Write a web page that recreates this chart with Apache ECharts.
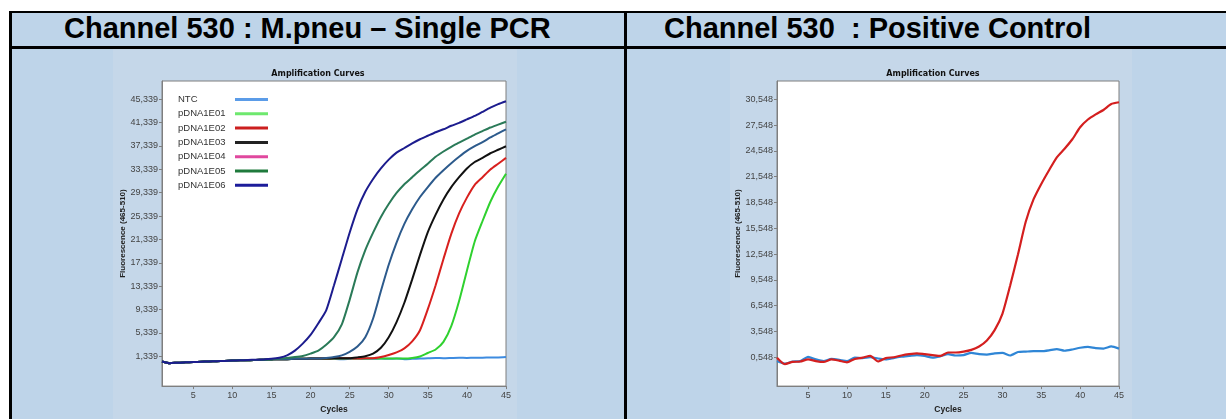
<!DOCTYPE html>
<html><head><meta charset="utf-8">
<script src="https://cdn.jsdelivr.net/npm/echarts@6/dist/echarts.min.js"></script>
<style>
html,body{margin:0;padding:0;background:#fff;width:1226px;height:419px;overflow:hidden;}
.abs{position:absolute;}
.hdr{position:absolute;font-family:'Liberation Sans',Arial,sans-serif;font-weight:bold;font-size:29px;line-height:29px;color:#000;white-space:nowrap;}
#c{position:absolute;left:0;top:0;width:1226px;height:419px;}
</style>
</head><body>
<div class="abs" style="left:9px;top:11px;width:1217px;height:408px;background:#bed4e9"></div>
<div class="abs" style="left:113px;top:48px;width:404px;height:371px;background:#c5d7e9"></div>
<div class="abs" style="left:730px;top:48px;width:402px;height:371px;background:#c5d7e9"></div>
<div class="abs" style="left:9px;top:10.5px;width:1217px;height:2.5px;background:#000"></div>
<div class="abs" style="left:9px;top:46px;width:1217px;height:2.5px;background:#000"></div>
<div class="abs" style="left:9px;top:10.5px;width:2.5px;height:409px;background:#000"></div>
<div class="abs" style="left:624px;top:10.5px;width:2.5px;height:409px;background:#000"></div>
<div class="hdr" style="left:64px;top:13.5px;">Channel 530 : M.pneu – Single PCR</div>
<div class="hdr" style="left:664px;top:13.5px;">Channel 530&nbsp; : Positive Control</div>
<div id="c"></div>
<script>
// ---- data ----
const cycles = [1,2,3,4,5,6,7,8,9,10,11,12,13,14,15,16,17,18,19,20,21,22,23,24,25,26,27,28,29,30,31,32,33,34,35,36,37,38,39,40,41,42,43,44,45];
const xTicks = [5,10,15,20,25,30,35,40,45];

const leftTicks = [1339,5339,9339,13339,17339,21339,25339,29339,33339,37339,41339,45339];
const leftTickLabels = ['1,339','5,339','9,339','13,339','17,339','21,339','25,339','29,339','33,339','37,339','41,339','45,339'];
const rightTicks = [548,3548,6548,9548,12548,15548,18548,21548,24548,27548,30548];
const rightTickLabels = ['0,548','3,548','6,548','9,548','12,548','15,548','18,548','21,548','24,548','27,548','30,548'];

const legendNames = ['NTC','pDNA1E01','pDNA1E02','pDNA1E03','pDNA1E04','pDNA1E05','pDNA1E06'];

const ntc = [450,150,250,300,350,400,450,500,550,600,650,650,700,750,800,850,850,900,900,950,
  900,950,900,850,900,950,900,900,950,900,950,850,900,950,1000,1050,1000,1050,1100,1050,1100,1100,1150,1150,1200];
const e01 = [450,150,250,300,350,400,450,500,550,600,650,650,700,750,800,850,850,900,900,950,
  950,900,950,950,1000,950,950,1000,950,950,950,950,1050,1300,1900,2500,3800,6500,10800,16000,21000,24500,27800,30400,32600];
const e02 = [450,150,250,300,350,400,450,500,550,600,650,650,700,750,800,850,850,900,900,950,
  950,950,1000,1000,1000,950,1000,1000,1200,1550,2000,2700,3900,5800,9400,13500,18000,22300,25800,28500,30700,32000,33300,34300,35300];
const e03 = [450,150,250,300,350,400,450,500,550,600,650,650,700,750,800,850,850,900,900,950,
  950,950,1000,1000,1000,1150,1350,1800,2800,4600,7200,10500,14500,18700,22600,25600,28200,30300,32000,33500,34600,35300,36100,36700,37300];
const e04 = [450,150,250,300,350,400,450,500,550,600,650,650,700,750,800,850,850,900,900,950,
  950,1050,1200,1500,2100,3000,4600,7800,12500,17000,20800,24000,26500,28600,30300,31900,33200,34400,35500,36500,37300,38000,38800,39500,40200];
const e05 = [450,150,250,300,350,400,450,500,550,600,650,650,700,750,800,950,1050,1200,1400,1800,
  2300,3300,4600,6800,11000,15700,19500,22500,25200,27400,29300,30800,32000,33200,34300,35500,36400,37200,37900,38600,39300,39900,40500,41000,41500];
const e06 = [450,150,250,300,350,400,450,500,550,600,650,700,750,800,900,1100,1500,2300,3500,5000,
  7000,9200,13500,18000,22500,26500,29500,31700,33500,35000,36200,37000,37800,38500,39100,39700,40200,40800,41300,41900,42500,43200,43900,44500,45000];

const pcRed = [500,-250,0,50,300,100,0,300,150,-50,350,500,700,50,450,550,750,900,1000,900,
  800,700,1100,1100,1200,1400,1800,2500,3700,5600,8900,12500,16300,18900,20700,22300,23800,24800,25900,27300,28200,28800,29300,30000,30200];
const pcBlue = [100,-200,50,100,600,300,100,350,250,100,500,450,550,400,300,450,600,700,800,700,
  500,650,900,750,800,1050,900,850,1000,1050,750,1150,1200,1250,1250,1350,1500,1300,1450,1650,1750,1600,1550,1800,1550];

// ---- styles ----
const lineColors = ['#3d8be0','#2fd12f','#d8201e','#111111','#2c5a8c','#2a7a58','#1c1c8e'];
const legendColors = ['#5b9ce8','#6ee86e','#cc1f1f','#222222','#e0489e','#1f7a3c','#1c1c9a'];
const leftData = [ntc,e01,e02,e03,e04,e05,e06];
const pair = arr => cycles.map((c,i)=>[c,arr[i]]);

const axisFont = "'Liberation Sans Narrow','Liberation Sans',Arial,sans-serif";
function xAxisCfg(gi){
  return {gridIndex:gi,type:'value',min:1,max:45,
    axisLine:{show:true,onZero:false,lineStyle:{color:'#7f7f7f',width:1}},
    axisTick:{show:true,customValues:xTicks,length:3,lineStyle:{color:'#7f7f7f'}},
    axisLabel:{customValues:xTicks,fontSize:9,color:'#444',margin:5,fontFamily:axisFont},
    splitLine:{show:false},
    name:'Cycles',nameLocation:'middle',nameGap:13,
    nameTextStyle:{fontSize:8.5,fontWeight:'bold',color:'#222',fontFamily:"'Liberation Sans',Arial,sans-serif"}};
}
function yAxisCfg(gi,min,max,ticks,labels){
  return {gridIndex:gi,type:'value',min:min,max:max,
    axisLine:{show:true,onZero:false,lineStyle:{color:'#7f7f7f',width:1}},
    axisTick:{show:true,customValues:ticks,length:3,lineStyle:{color:'#7f7f7f'}},
    axisLabel:{customValues:ticks,fontSize:9,color:'#444',margin:4,fontFamily:axisFont,
      formatter:v=>{const i=ticks.indexOf(v);return i>=0?labels[i]:'';}},
    splitLine:{show:false},
    name:'Fluorescence (465-510)',nameLocation:'middle',nameGap:31,nameRotate:90,
    nameTextStyle:{fontSize:8,fontWeight:'bold',color:'#222',fontFamily:"'Liberation Sans',Arial,sans-serif"}};
}

const series = [];
legendNames.forEach((n,i)=>{
  series.push({name:n,type:'line',xAxisIndex:0,yAxisIndex:0,data:pair(leftData[i]),
    showSymbol:false,smooth:0.2,lineStyle:{color:lineColors[i],width:2},itemStyle:{color:lineColors[i]},z:2+i});
});
series.push({name:'Negative',type:'line',xAxisIndex:1,yAxisIndex:1,data:pair(pcBlue),
  showSymbol:false,smooth:0.2,lineStyle:{color:'#2f86d6',width:2.2},itemStyle:{color:'#2f86d6'},z:2});
series.push({name:'Positive Control',type:'line',xAxisIndex:1,yAxisIndex:1,data:pair(pcRed),
  showSymbol:false,smooth:0.2,lineStyle:{color:'#d41f1f',width:2.2},itemStyle:{color:'#d41f1f'},z:3});

const chart = echarts.init(document.getElementById('c'),null,{renderer:'canvas'});
chart.setOption({
  backgroundColor:'transparent',
  animation:false,
  title:[
    {text:'Amplification Curves',left:313,top:65,textAlign:'center',
     textStyle:{fontSize:8,fontWeight:'bold',color:'#111',fontFamily:"'DejaVu Sans',sans-serif"}},
    {text:'Amplification Curves',left:928,top:65,textAlign:'center',
     textStyle:{fontSize:8,fontWeight:'bold',color:'#111',fontFamily:"'DejaVu Sans',sans-serif"}}
  ],
  grid:[
    {left:162,top:81,width:344,height:317,show:true,backgroundColor:'#fff',borderColor:'#7f7f7f',borderWidth:1},
    {left:777,top:81,width:342,height:317,show:true,backgroundColor:'#fff',borderColor:'#7f7f7f',borderWidth:1}
  ],
  xAxis:[xAxisCfg(0),xAxisCfg(1)],
  yAxis:[yAxisCfg(0,-3768,48469,leftTicks,leftTickLabels),yAxisCfg(1,-2810,32675,rightTicks,rightTickLabels)],
  legend:{orient:'vertical',left:173,top:89,icon:'rect',itemWidth:33,itemHeight:3,itemGap:3.3,align:'right',
    selectedMode:false,
    data:legendNames.map((n,i)=>({name:n,itemStyle:{color:legendColors[i]},lineStyle:{color:legendColors[i]}})),
    formatter:n=>'{a|'+n+'}',
    textStyle:{fontSize:9.5,color:'#333',lineHeight:11,fontFamily:"'Liberation Sans',Arial,sans-serif",
      rich:{a:{width:52,align:'left',fontSize:9.5,color:'#333',fontFamily:"'Liberation Sans',Arial,sans-serif"}}}},
  series:series
});
</script>
</body></html>
